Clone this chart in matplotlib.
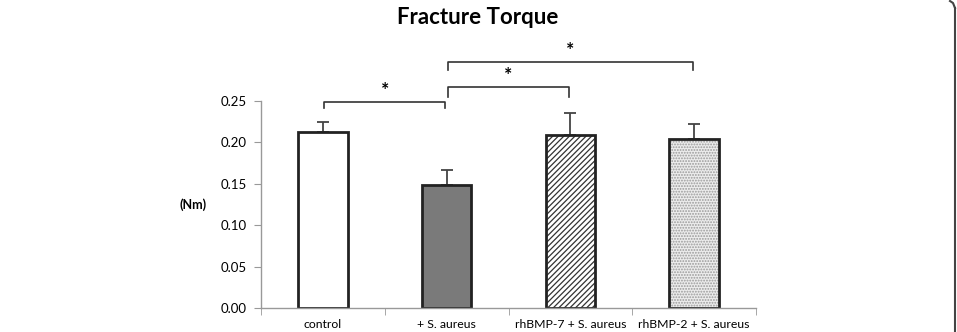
import matplotlib.pyplot as plt
from matplotlib.lines import Line2D

categories = ["control", "+ S. aureus", "rhBMP-7 + S. aureus", "rhBMP-2 + S. aureus"]
torque = [0.213, 0.148, 0.209, 0.204]
torque_sd = [0.012, 0.019, 0.027, 0.018]
yticks = [0.00, 0.05, 0.10, 0.15, 0.20, 0.25]

# significance brackets: (left bar, right bar, bracket top, leg bottom)
comparisons = [(0, 1, 0.249, 0.2415), (1, 2, 0.2667, 0.2554), (1, 3, 0.2967, 0.2874)]

plt.rcParams['font.family'] = ['Lato', 'DejaVu Sans']
plt.rcParams['hatch.linewidth'] = 0.9

fig = plt.figure(figsize=(9.57, 3.32), dpi=100)
ax = fig.add_axes([261 / 957, 1 - 308 / 332, (756 - 261) / 957, (308 - 101) / 332])

faces = ["white", "#7a7a7a", "white", "#ececec"]
hatches = [None, None, "//////", "......"]
hatch_cols = ["black", "black", "#333333", "#9a9a9a"]
x = range(len(categories))
bars = ax.bar(x, torque, width=0.4, color=faces, edgecolor="#222222", linewidth=2, zorder=2)
for b, h, hc in zip(bars, hatches, hatch_cols):
    if h:
        b.set_hatch(h)
        b._hatch_color = plt.matplotlib.colors.to_rgba(hc)
ax.errorbar(x, torque, yerr=[[0] * 4, torque_sd], fmt="none", ecolor="#444444",
            elinewidth=1.3, capsize=4, capthick=1.3, zorder=1)

ax.set_xlim(-0.5, 3.5)
ax.set_ylim(0, 0.25)
ax.set_yticks(yticks)
ax.set_yticklabels([f"{v:.2f}" for v in yticks], fontsize=9.5)
ax.set_xticks(list(x))
ax.set_xticklabels(categories, fontsize=8.8)
ax.set_xticks([-0.5, 0.5, 1.5, 2.5, 3.5], minor=True)
ax.tick_params(axis="x", which="major", length=0, pad=8)
ax.tick_params(axis="x", which="minor", length=5, color="#999999")
ax.tick_params(axis="y", length=5, color="#999999", pad=5)
for s in ["top", "right"]:
    ax.spines[s].set_visible(False)
for s in ["left", "bottom"]:
    ax.spines[s].set_color("#999999")
    ax.spines[s].set_linewidth(1)

ax.text(-0.137, 0.5, "(Nm)", transform=ax.transAxes, fontsize=9, fontweight="bold",
        ha="center", va="center")

for i, j, top, leg in comparisons:
    xi, xj = i + 0.01, j - 0.01
    ax.plot([xi, xi, xj, xj], [leg, top, top, leg], color="#333333", lw=1.2, clip_on=False)
    ax.text((xi + xj) / 2, top + 0.004, "*", ha="center", va="bottom", fontsize=14,
            fontweight="bold", clip_on=False)

fig.text(0.4995, 1 - 17 / 332, "Fracture Torque", ha="center", va="center",
         fontsize=16, fontweight="bold")

# frame edge at right
fig.add_artist(Line2D([955 / 957, 955 / 957], [0, 1 - 8 / 332], color="#444444", lw=1.5,
                      transform=fig.transFigure))
fig.add_artist(Line2D([950 / 957, 953 / 957, 955 / 957], [1 - 1 / 332, 1 - 3 / 332, 1 - 8 / 332],
                      color="#444444", lw=1.5, transform=fig.transFigure))

fig.savefig("out.png", dpi=100)
